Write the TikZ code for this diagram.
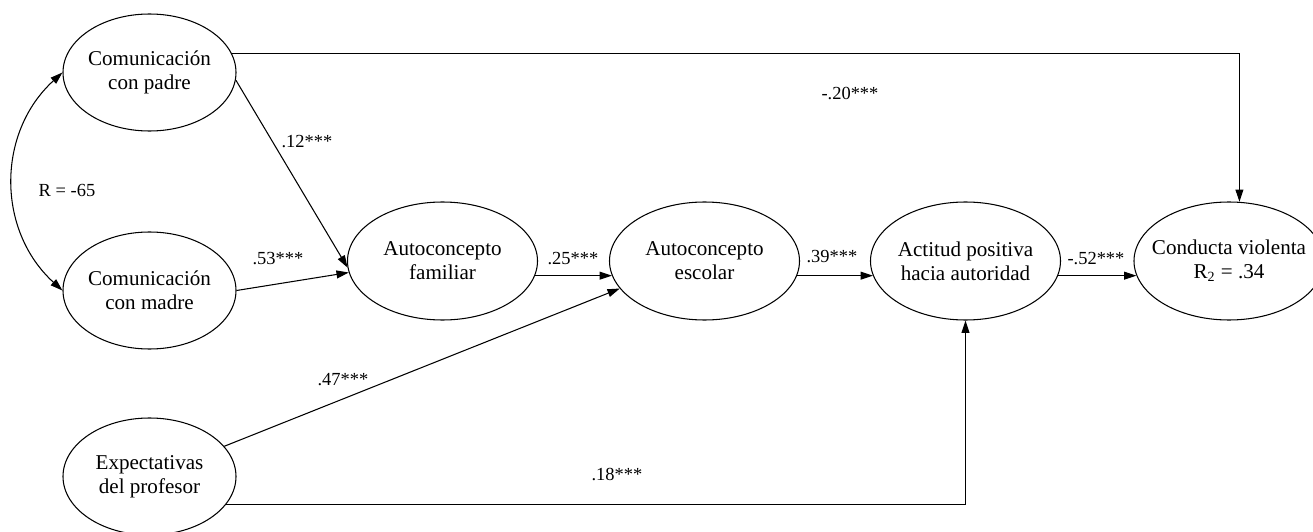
\documentclass[tikz,border=0pt]{standalone}
\usepackage{fontspec}
\setmainfont{Liberation Serif}
\usetikzlibrary{shapes.geometric,arrows.meta}

\begin{document}
\begin{tikzpicture}[x=0.2mm,y=-0.2mm,
    var/.style={draw,ellipse,line width=0.6pt,inner ysep=0pt,inner xsep=-0.3cm,align=center,
        minimum width=3.46cm,minimum height=2.34cm,font=\fontsize{12}{13.6}\selectfont},
    wide/.style={var,minimum width=3.8cm,minimum height=2.36cm},
    coef/.style={inner sep=0pt,font=\fontsize{10.5}{12}\selectfont},
    path/.style={line width=0.6pt,-{Triangle[length=7pt,width=4.5pt]}}]
        \useasboundingbox (0,0) rectangle (1313,532);

        % variables exogenas
        \node[var] (padre) at (149.5,72.5) {Comunicación\\con padre};
        \node[var] (madre) at (149.5,290.5) {Comunicación\\con madre};
        \node[var] (prof) at (149.5,476.5) {Expectativas\\del profesor};

        % cadena mediadora
        \node[wide] (fam) at (442.5,261) {Autoconcepto\\familiar};
        \node[wide] (esc) at (704.5,261) {Autoconcepto\\escolar};
        \node[wide] (act) at (965.5,261) {Actitud positiva\\hacia autoridad};
        \node[wide] (cond) at (1229,261) {Conducta violenta\\R\textsubscript{2} = .34};

        \draw[line width=0.6pt,{Triangle[length=7pt,width=4.5pt]}-{Triangle[length=7pt,width=4.5pt]}]
            (padre.west) .. controls +(-66,60) and +(-66,-60) .. (madre.west);
        \node[coef] (r) at (67,190) {R = -65};

        \draw[path] (padre.-5) -- (fam.184);
        \draw[path] (madre.east) -- (fam.187);
        \draw[path] (fam.-9) -- (esc.189);
        \draw[path] (esc.-9) -- (act.189);
        \draw[path] (act.-9) -- (cond.189);
        \draw[path] (prof.22) -- (esc.198);
        \draw[path] (prof.-20) -| (act.south);
        \draw[path] (padre.13) -| (cond.80);

        \node[coef] (c12) at (307,142) {.12***};
        \node[coef] (c53) at (278,259) {.53***};
        \node[coef] (c47) at (343,380) {.47***};
        \node[coef] (c25) at (573,259) {.25***};
        \node[coef] (c39) at (832,257) {.39***};
        \node[coef] (c52) at (1096,259) {-.52***};
        \node[coef] (c20) at (850,93) {-.20***};
        \node[coef] (c18) at (617,474) {.18***};

    \end{tikzpicture}
\end{document}
